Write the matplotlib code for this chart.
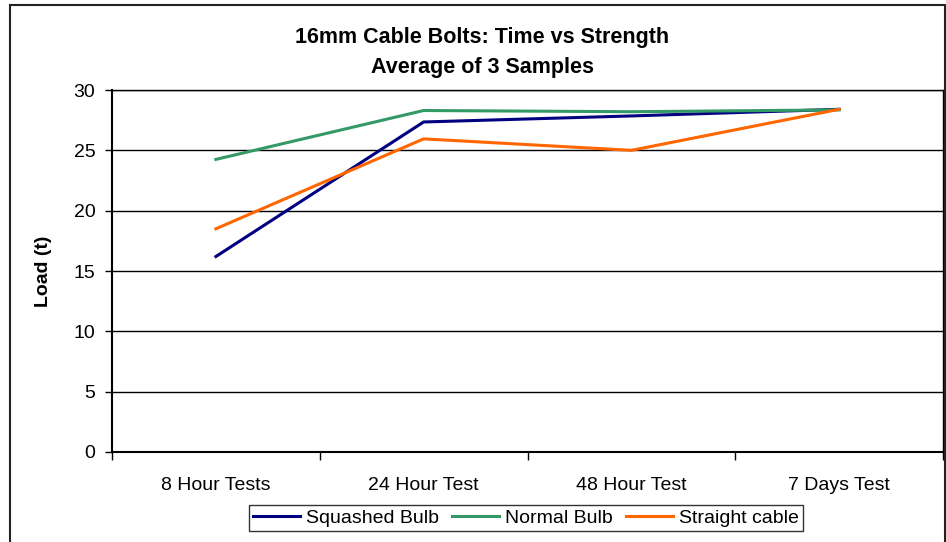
import matplotlib
matplotlib.use("Agg")
import matplotlib.pyplot as plt
from matplotlib.patches import Rectangle

plt.rcParams['font.family'] = ['Liberation Sans', 'DejaVu Sans']

categories = ['8 Hour Tests', '24 Hour Test', '48 Hour Test', '7 Days Test']
squashed_bulb = [16.2, 27.35, 27.85, 28.4]
normal_bulb = [24.25, 28.3, 28.2, 28.35]
straight_cable = [18.5, 25.95, 25.0, 28.4]

series = [
    ('Squashed Bulb', squashed_bulb, '#000080'),
    ('Normal Bulb', normal_bulb, '#339966'),
    ('Straight cable', straight_cable, '#FF6600'),
]

fig = plt.figure(figsize=(9.46, 5.42), dpi=100)
ax = fig.add_axes([112/946, 1-452/542, 831/946, 362/542])

x = list(range(len(categories)))
for name, vals, col in series:
    ax.plot(x, vals, color=col, lw=2.2, label=name, zorder=3)

ax.set_xlim(-0.5, 3.5)
ax.set_ylim(0, 30)
ax.set_yticks(range(0, 31, 5))
ax.yaxis.grid(True, color='black', lw=1)
ax.set_axisbelow(True)
ax.set_xticks(x)
ax.set_xticklabels(categories)
ax.set_xticks([-0.5, 0.5, 1.5, 2.5, 3.5], minor=True)
ax.tick_params(axis='x', which='major', length=0, pad=18, labelsize=14)
ax.tick_params(axis='x', which='minor', length=6, width=1, color='black')
ax.tick_params(axis='y', length=5, width=1, pad=7, labelsize=14)
for s in ax.spines.values():
    s.set_color('black')
    s.set_linewidth(1)
ax.spines['left'].set_linewidth(1.5)
ax.spines['bottom'].set_linewidth(1.5)

fig.text(43/946, 1-271/542, 'Load (t)', rotation=90, ha='center', va='center',
         fontsize=14, fontweight='bold')

fig.text(482/946, 1-38/542, '16mm Cable Bolts: Time vs Strength', ha='center',
         va='center', fontsize=15.5, fontweight='bold')
fig.text(482/946, 1-68/542, 'Average of 3 Samples', ha='center',
         va='center', fontsize=15.5, fontweight='bold')

leg = fig.legend(loc='center', bbox_to_anchor=(526/946, 1-518/542), ncol=3,
                 fontsize=14, frameon=True, fancybox=False, handlelength=2.4,
                 handletextpad=0.3, columnspacing=0.7, borderpad=0.2)
leg.get_frame().set_edgecolor('black')
leg.get_frame().set_linewidth(1)

fig.patches.append(Rectangle((10/946, -0.05), 935/946, 1.05-5/542,
                             transform=fig.transFigure, fill=False,
                             edgecolor='#222222', lw=1.5))

fig.savefig('out.png', dpi=100)
